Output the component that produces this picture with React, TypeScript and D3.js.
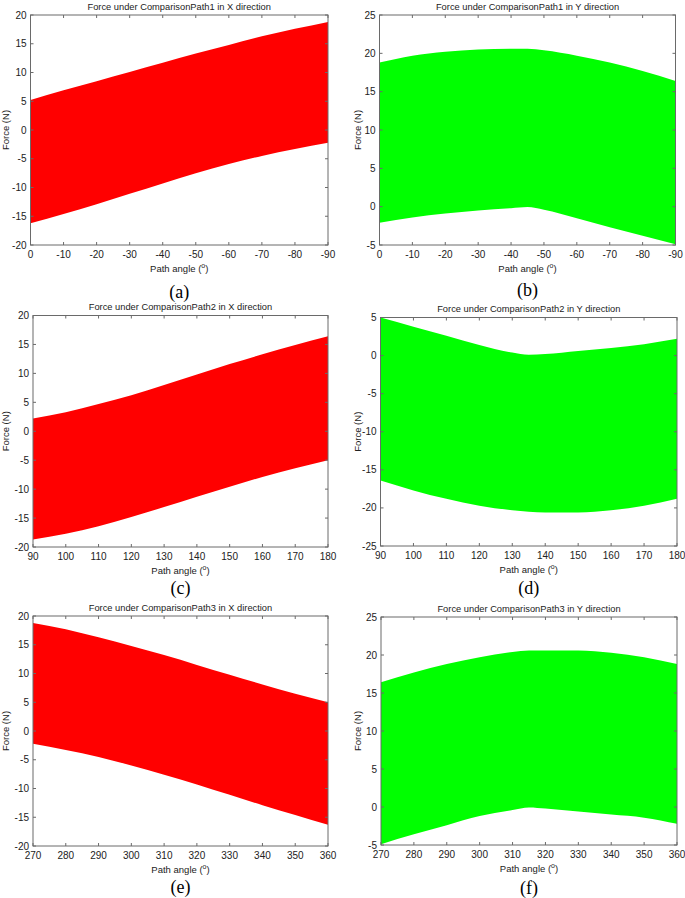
import React from 'react';
import * as d3 from 'd3';

// ---------- data ----------
const titles = [
  'Force under ComparisonPath1 in X direction',
  'Force under ComparisonPath1 in Y direction',
  'Force under ComparisonPath2 in X direction',
  'Force under ComparisonPath2 in Y direction',
  'Force under ComparisonPath3 in X direction',
  'Force under ComparisonPath3 in Y direction',
];
const panelLabels = ['(a)', '(b)', '(c)', '(d)', '(e)', '(f)'];

const xA = [0, -10, -20, -30, -40, -50, -60, -70, -80, -90];
const upA = [5.2, 6.9, 8.5, 10.1, 11.7, 13.3, 14.8, 16.3, 17.6, 18.8];
const loA = [-16.2, -14.6, -12.9, -11.1, -9.3, -7.5, -5.9, -4.5, -3.3, -2.2];

const xB = [0, -10, -20, -30, -40, -45, -50, -60, -70, -80, -90];
const upB = [18.8, 19.7, 20.2, 20.5, 20.6, 20.6, 20.4, 19.7, 18.8, 17.7, 16.4];
const loB = [-2.1, -1.4, -0.9, -0.5, -0.2, -0.05, -0.4, -1.5, -2.7, -3.8, -4.9];

const xC = [90, 100, 110, 120, 130, 140, 150, 160, 170, 180];
const upC = [2.2, 3.3, 4.7, 6.2, 8.0, 9.8, 11.6, 13.3, 14.9, 16.4];
const loC = [-18.7, -17.7, -16.4, -14.8, -13.1, -11.3, -9.6, -7.9, -6.4, -5.0];

const xD = [90, 100, 110, 120, 130, 135, 140, 150, 160, 170, 180];
const upD = [5.0, 3.8, 2.6, 1.4, 0.4, 0.1, 0.2, 0.6, 1.0, 1.5, 2.2];
const loD = [-16.4, -17.7, -18.8, -19.7, -20.3, -20.5, -20.6, -20.6, -20.3, -19.7, -18.8];

const xE = [270, 280, 290, 300, 310, 320, 330, 340, 350, 360];
const upE = [18.8, 17.7, 16.3, 14.8, 13.2, 11.5, 9.8, 8.1, 6.5, 5.0];
const loE = [-2.2, -3.3, -4.5, -6.0, -7.6, -9.3, -11.1, -12.9, -14.6, -16.3];

const xF = [270, 280, 290, 300, 310, 315, 320, 330, 340, 350, 360];
const upF = [16.4, 17.7, 18.8, 19.7, 20.4, 20.6, 20.6, 20.6, 20.3, 19.7, 18.8];
const loF = [-4.9, -3.6, -2.4, -1.2, -0.4, -0.05, -0.2, -0.6, -1.0, -1.4, -2.2];

const xDomains = [[0, -90], [0, -90], [90, 180], [90, 180], [270, 360], [270, 360]];
const yDomains = [[-20, 20], [-5, 25], [-20, 20], [-25, 5], [-20, 20], [-5, 25]];
const xSeries = [xA, xB, xC, xD, xE, xF];
const upSeries = [upA, upB, upC, upD, upE, upF];
const loSeries = [loA, loB, loC, loD, loE, loF];
const fills = ['#ff0000', '#00ff00', '#ff0000', '#00ff00', '#ff0000', '#00ff00'];

// ---------- layout ----------
const boxes = [
  { l: 30.5, r: 328, t: 15, b: 245, yl: 5, lab: 292 },
  { l: 379.5, r: 675.5, t: 15, b: 245, yl: 357, lab: 290 },
  { l: 33, r: 328, t: 315.5, b: 547, yl: 5, lab: 588 },
  { l: 380.5, r: 677, t: 317.5, b: 546, yl: 357, lab: 588 },
  { l: 33, r: 328, t: 616, b: 846, yl: 5, lab: 887 },
  { l: 381, r: 677, t: 617, b: 845, yl: 357, lab: 888 },
];

const SANS = '"Liberation Sans", Arial, Helvetica, sans-serif';
const SERIF = '"Liberation Serif", "Times New Roman", serif';
const AXIS = '#6a6a6a';
const TXT = '#222';

function Panel({ i }: { i: number }) {
  const bx = boxes[i];
  const x = d3.scaleLinear().domain(xDomains[i]).range([bx.l, bx.r]);
  const y = d3.scaleLinear().domain(yDomains[i]).range([bx.b, bx.t]);
  const xs = xSeries[i];
  const pts = xs.map((v, k) => ({ x: v, lo: loSeries[i][k], up: upSeries[i][k] }));
  const area = d3
    .area<{ x: number; lo: number; up: number }>()
    .x((d) => x(d.x))
    .y0((d) => y(d.lo))
    .y1((d) => y(d.up))
    .curve(d3.curveMonotoneX);
  const [x0, x1] = xDomains[i];
  const xt = d3.range(Math.min(x0, x1), Math.max(x0, x1) + 0.1, 10);
  const [y0, y1] = yDomains[i];
  const yt = d3.range(y0, y1 + 0.1, 5);
  const tl = 3;
  return (
    <g>
      <path d={area(pts) || ''} fill={fills[i]} />
      <rect x={bx.l} y={bx.t} width={bx.r - bx.l} height={bx.b - bx.t} fill="none" stroke={AXIS} strokeWidth={1} />
      {xt.map((v) => (
        <g key={'x' + v}>
          <line x1={x(v)} x2={x(v)} y1={bx.b} y2={bx.b - tl} stroke={AXIS} />
          <line x1={x(v)} x2={x(v)} y1={bx.t} y2={bx.t + tl} stroke={AXIS} />
          <text x={x(v)} y={bx.b + 12.5} textAnchor="middle" fontSize={10} fontFamily={SANS} fill={TXT}>
            {v}
          </text>
        </g>
      ))}
      {yt.map((v) => (
        <g key={'y' + v}>
          <line x1={bx.l} x2={bx.l + tl} y1={y(v)} y2={y(v)} stroke={AXIS} />
          <line x1={bx.r} x2={bx.r - tl} y1={y(v)} y2={y(v)} stroke={AXIS} />
          <text x={bx.l - 4} y={y(v) + 3.5} textAnchor="end" fontSize={10} fontFamily={SANS} fill={TXT}>
            {v}
          </text>
        </g>
      ))}
      <text x={(bx.l + bx.r) / 2} y={bx.t - 5.5} textAnchor="middle" fontSize={9.3} fontFamily={SANS} fill={TXT}>
        {titles[i]}
      </text>
      <text x={(bx.l + bx.r) / 2} y={bx.b + 26.5} textAnchor="middle" fontSize={9.5} fontFamily={SANS} fill={TXT}>
        Path angle (
        <tspan fontSize={7} dy={-4}>o</tspan>
        <tspan dy={4}>)</tspan>
      </text>
      <text
        transform={`translate(${bx.yl + 3.5},${(bx.t + bx.b) / 2}) rotate(-90)`}
        textAnchor="middle"
        fontSize={9.5}
        fontFamily={SANS}
        fill={TXT}
      >
        Force (N)
      </text>
      <text x={(bx.l + bx.r) / 2} y={bx.lab + 6} textAnchor="middle" fontSize={18} fontFamily={SERIF} fill="#000">
        {panelLabels[i]}
      </text>
    </g>
  );
}

export default function App() {
  return (
    <div style={{ position: 'absolute', left: 0, top: 0 }}>
      <svg width={685} height={898} style={{ display: 'block', background: '#fff' }}>
        {[0, 1, 2, 3, 4, 5].map((i) => (
          <Panel key={i} i={i} />
        ))}
      </svg>
    </div>
  );
}
